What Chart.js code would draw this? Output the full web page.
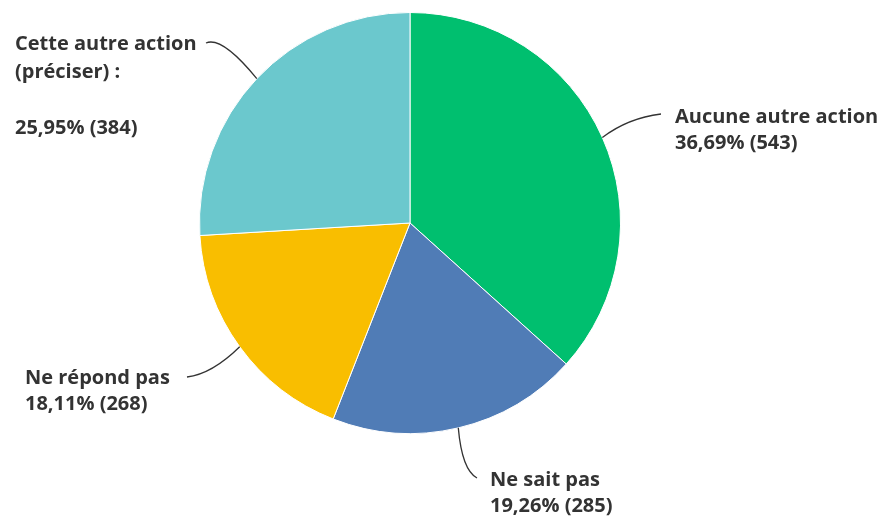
<!DOCTYPE html>
<html>
<head>
<meta charset="utf-8">
<script src="https://cdn.jsdelivr.net/npm/chart.js@4.4.0/dist/chart.umd.min.js"></script>
<style>
  html, body { margin: 0; padding: 0; background: #fff; }
  #wrap { width: 885px; height: 517px; }
</style>
</head>
<body>
<div id="wrap"><canvas id="chart" width="885" height="517"></canvas></div>
<script>
// Data
const categories = ['Aucune autre action', 'Ne sait pas', 'Ne répond pas', 'Cette autre action (préciser) :'];
const percents = [36.69, 19.26, 18.11, 25.95];
const counts = [543, 285, 268, 384];
const colors = ['#00BF6F', '#507CB6', '#F9BE00', '#6BC8CD'];

// Label text lines, as shown next to each slice
const labelLines = [
    ['Aucune autre action', '36,69% (543)'],
    ['Ne sait pas', '19,26% (285)'],
    ['Ne répond pas', '18,11% (268)'],
    ['Cette autre action', '(préciser) :', '', '25,95% (384)']
];

// Where each label block sits and where its leader line starts
const labelLayout = [
    { x: 675, y: 117, step: 26, lineStart: [661, 114], ctrl: [628, 118] },
    { x: 490, y: 480, step: 26, lineStart: [477, 478], ctrl: [462, 470] },
    { x: 25, y: 378, step: 26, lineStart: [187, 377], ctrl: [212, 374] },
    { x: 15, y: 44, step: 28, lineStart: [206, 43], ctrl: [222, 36] }
];

const leaderLabels = {
    id: 'leaderLabels',
    afterDraw(chart) {
        const ctx = chart.ctx;
        const meta = chart.getDatasetMeta(0);
        ctx.save();
        meta.data.forEach((arc, i) => {
            const mid = (arc.startAngle + arc.endAngle) / 2;
            const ex = arc.x + Math.cos(mid) * arc.outerRadius;
            const ey = arc.y + Math.sin(mid) * arc.outerRadius;
            const lay = labelLayout[i];

            // leader line
            ctx.beginPath();
            ctx.moveTo(lay.lineStart[0], lay.lineStart[1]);
            ctx.quadraticCurveTo(lay.ctrl[0], lay.ctrl[1], ex, ey);
            ctx.strokeStyle = '#333';
            ctx.lineWidth = 1.3;
            ctx.stroke();

            // label text
            ctx.fillStyle = '#333';
            ctx.font = 'bold 20px "Open Sans", "Liberation Sans", sans-serif';
            ctx.textAlign = 'left';
            ctx.textBaseline = 'middle';
            labelLines[i].forEach((t, k) => {
                if (t) ctx.fillText(t, lay.x, lay.y + k * lay.step);
            });
        });
        ctx.restore();
    }
};

new Chart(document.getElementById('chart'), {
    type: 'pie',
    data: {
        labels: categories,
        datasets: [{
            data: percents,
            backgroundColor: colors,
            borderColor: '#ffffff',
            borderWidth: 1
        }]
    },
    options: {
        responsive: false,
        animation: false,
        layout: {
            padding: { left: 199, right: 264, top: 12, bottom: 83 }
        },
        plugins: {
            legend: { display: false },
            tooltip: { enabled: false }
        }
    },
    plugins: [leaderLabels]
});
</script>
</body>
</html>
